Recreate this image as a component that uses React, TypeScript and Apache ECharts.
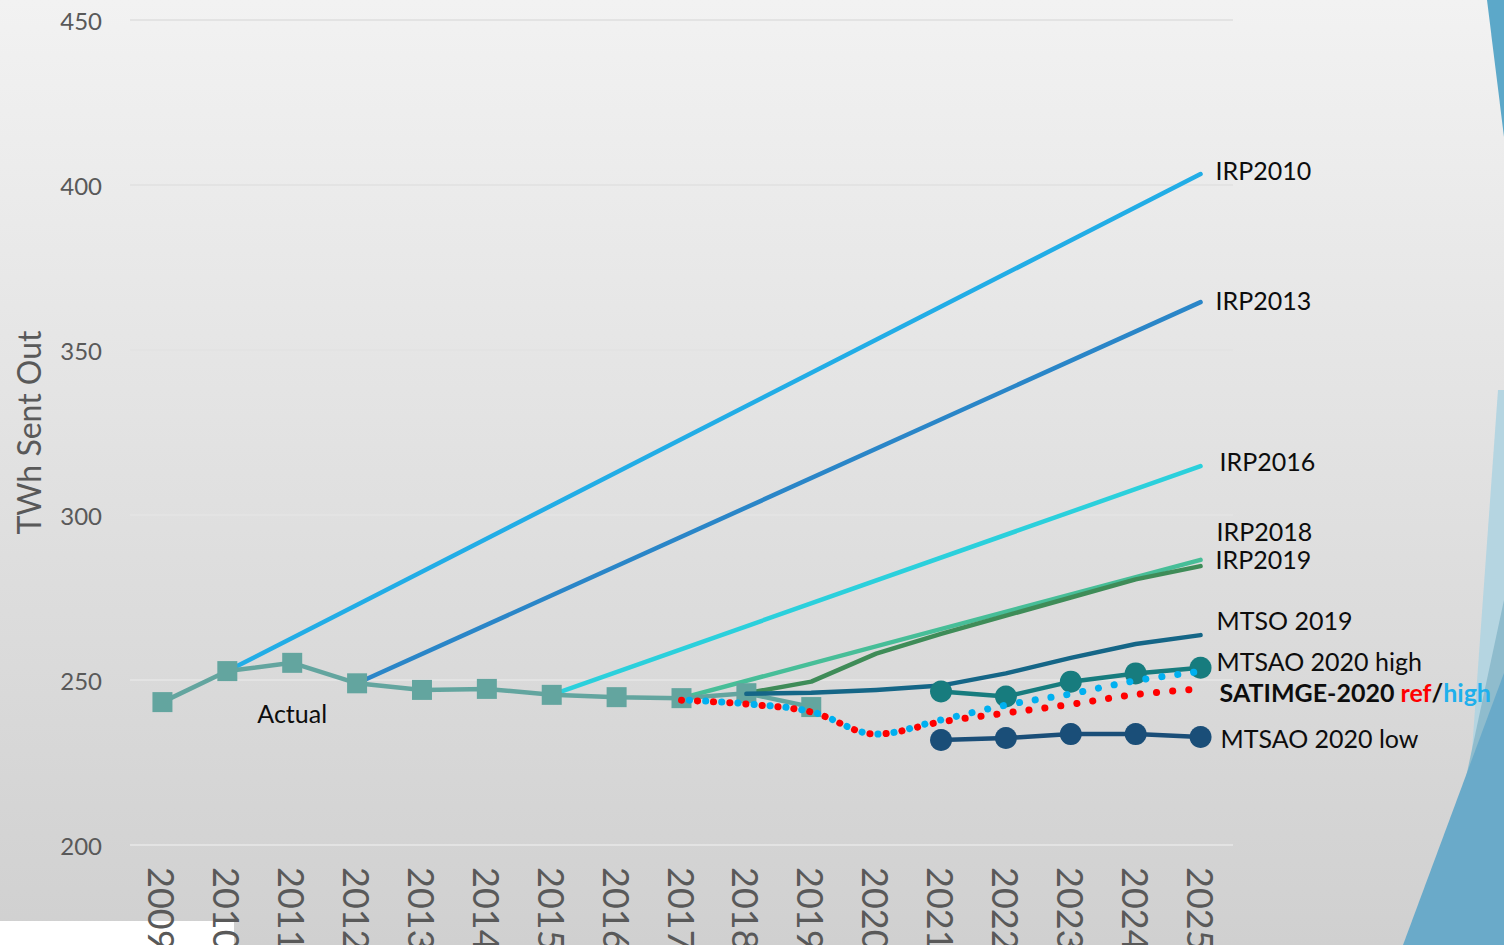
import React, { useEffect, useRef } from 'react';
import * as echarts from 'echarts';

const years = ['2009','2010','2011','2012','2013','2014','2015','2016','2017','2018','2019','2020','2021','2022','2023','2024','2025'];
const N = null;
const actual = [243.3, 252.7, 255.2, 249.0, 247.0, 247.3, 245.5, 244.8, 244.5, 246.0, 241.8, N, N, N, N, N, N];
const irp2010 = [N, 252.7, N, N, N, N, N, N, N, N, N, N, N, N, N, N, 403.3];
const irp2013 = [N, N, N, 249.0, N, N, N, N, N, N, N, N, N, N, N, N, 364.5];
const irp2016 = [N, N, N, N, N, N, 245.5, N, N, N, N, N, N, N, N, N, 314.8];
const irp2018 = [N, N, N, N, N, N, N, N, 244.5, N, N, N, N, N, N, N, 286.4];
const irp2019 = [N, N, N, N, N, N, N, N, N, 246.0, 249.5, 258.0, 264.0, 269.5, 275.0, 280.5, 284.5];
const mtso2019 = [N, N, N, N, N, N, N, N, N, 245.8, 246.1, 247.0, 248.3, 252.0, 256.7, 260.9, 263.6];
const mtsaoHigh = [N, N, N, N, N, N, N, N, N, N, N, N, 246.5, 245.0, 249.5, 252.0, 253.7];
const mtsaoLow = [N, N, N, N, N, N, N, N, N, N, N, N, 231.8, 232.4, 233.6, 233.6, 232.7];
const satimgeRef = [N, N, N, N, N, N, N, N, 243.9, 242.7, 240.3, 233.6, 237.3, 240.0, 242.6, 245.6, 247.3];
const satimgeHigh = [N, N, N, N, N, N, N, N, 244.0, 242.8, 240.4, 233.6, 237.9, 242.4, 245.8, 249.8, 252.6];

const FONT = 'Lato';

function endLabel(text: string, dx: number, dy: number, extra: any = {}) {
  return {
    show: true,
    formatter: text,
    distance: 0,
    offset: [dx, dy],
    color: '#0d0d0d',
    fontFamily: FONT,
    fontSize: 25,
    ...extra,
  };
}

function plainLine(name: string, data: any[], color: string, lbl: any, width = 4.5) {
  return {
    name,
    type: 'line',
    data,
    connectNulls: true,
    symbol: 'none',
    lineStyle: { color, width, cap: 'round', join: 'round' },
    itemStyle: { color },
    endLabel: lbl,
    z: 2,
  };
}

export default function App() {
  const ref = useRef<HTMLDivElement>(null);
  useEffect(() => {
    if (!ref.current) return;
    const chart = echarts.init(ref.current, undefined, { renderer: 'svg' });
    const actualData = actual.map((v, i) =>
      i === 2
        ? {
            value: v,
            label: {
              show: true,
              formatter: 'Actual',
              position: 'bottom',
              distance: 28,
              color: '#0d0d0d',
              fontFamily: FONT,
              fontSize: 25,
            },
          }
        : v
    );
    const option: any = {
      animation: false,
      textStyle: { fontFamily: FONT },
      grid: { left: 130, right: 271, top: 20, bottom: 100, containLabel: false, outerBoundsMode: 'none' },
      graphic: [
        { type: 'polygon', z: -10, shape: { points: [[1487, 0], [1504, 0], [1504, 137]] }, style: { fill: '#5ca8c9' } },
        { type: 'polygon', z: -10, shape: { points: [[1498, 390], [1504, 390], [1504, 945], [1458, 945]] }, style: { fill: '#b5d5e1' } },
        { type: 'polygon', z: -9, shape: { points: [[1504, 600], [1504, 945], [1430, 945]] }, style: { fill: '#8fbccd' } },
        { type: 'polygon', z: -8, shape: { points: [[1504, 673], [1504, 945], [1403, 945]] }, style: { fill: '#6aaac9' } },
        { type: 'rect', z: -10, shape: { x: 0, y: 921, width: 234, height: 24 }, style: { fill: '#ffffff' } },
      ],
      xAxis: {
        type: 'category',
        data: years,
        boundaryGap: true,
        axisLine: { show: false },
        axisTick: { show: false },
        axisLabel: {
          rotate: -90,
          interval: 0,
          margin: 22,
          color: '#595959',
          fontFamily: FONT,
          fontSize: 36,
        },
        splitLine: { show: false },
      },
      yAxis: {
        type: 'value',
        min: 200,
        max: 450,
        interval: 50,
        name: 'TWh Sent Out',
        nameLocation: 'middle',
        nameRotate: 90,
        nameGap: 86,
        nameTextStyle: { color: '#595959', fontFamily: FONT, fontSize: 32 },
        axisLine: { show: false },
        axisTick: { show: false },
        axisLabel: { color: '#595959', fontFamily: FONT, fontSize: 24, margin: 28 },
        splitLine: { lineStyle: { color: '#e3e3e3', width: 2 } },
      },
      series: [
        plainLine('IRP2010', irp2010, '#22ade6', endLabel('IRP2010', 15, -4)),
        plainLine('IRP2013', irp2013, '#2a86c8', endLabel('IRP2013', 15, -2)),
        plainLine('IRP2016', irp2016, '#2bd0dc', endLabel('IRP2016', 19, -5)),
        plainLine('IRP2018', irp2018, '#47be98', endLabel('IRP2018', 16, -29)),
        plainLine('IRP2019', irp2019, '#3f8c58', endLabel('IRP2019', 15, -7)),
        {
          name: 'Actual',
          type: 'line',
          data: actualData,
          symbol: 'rect',
          symbolSize: 20,
          lineStyle: { color: '#63a59f', width: 4.5 },
          itemStyle: { color: '#63a59f' },
          z: 3,
        },
        { ...plainLine('MTSO 2019', mtso2019, '#156687', endLabel('MTSO 2019', 16, -15)), z: 4 },
        {
          name: 'MTSAO 2020 high',
          type: 'line',
          data: mtsaoHigh,
          symbol: 'circle',
          symbolSize: 22,
          lineStyle: { color: '#177c7e', width: 4.5 },
          itemStyle: { color: '#177c7e' },
          endLabel: endLabel('MTSAO 2020 high', 16, -7),
          z: 5,
        },
        {
          name: 'MTSAO 2020 low',
          type: 'line',
          data: mtsaoLow,
          symbol: 'circle',
          symbolSize: 22,
          lineStyle: { color: '#1a4e78', width: 4.5 },
          itemStyle: { color: '#1a4e78' },
          endLabel: endLabel('MTSAO 2020 low', 20, 1),
          z: 5,
        },
        {
          name: 'SATIMGE-2020 ref',
          type: 'line',
          data: satimgeRef,
          smooth: 0.35,
          symbol: 'none',
          lineStyle: { color: '#ff0000', width: 7, type: [0.1, 16], cap: 'round' },
          itemStyle: { color: '#ff0000' },
          endLabel: endLabel('{b|SATIMGE-2020 }{r|ref}{b|/}{h|high}', 19, 3, {
            rich: {
              b: { fontFamily: FONT, fontSize: 25, fontWeight: 'bold', color: '#0d0d0d' },
              r: { fontFamily: FONT, fontSize: 25, fontWeight: 'bold', color: '#ff0000' },
              h: { fontFamily: FONT, fontSize: 25, fontWeight: 'bold', color: '#1fb0ec' },
            },
          }),
          z: 6,
        },
        {
          name: 'SATIMGE-2020 high',
          type: 'line',
          data: satimgeHigh,
          smooth: 0.35,
          symbol: 'none',
          lineStyle: { color: '#00b0f0', width: 7, type: [0.1, 16], dashOffset: 8, cap: 'round' },
          itemStyle: { color: '#00b0f0' },
          z: 7,
        },
      ],
    };
    chart.setOption(option);
    return () => chart.dispose();
  }, []);
  return (
    <div
      ref={ref}
      style={{
        position: 'fixed',
        left: 0,
        top: 0,
        width: 1504,
        height: 945,
        background: 'linear-gradient(to bottom, #f2f2f2 0%, #d0d0d0 100%)',
      }}
    />
  );
}
